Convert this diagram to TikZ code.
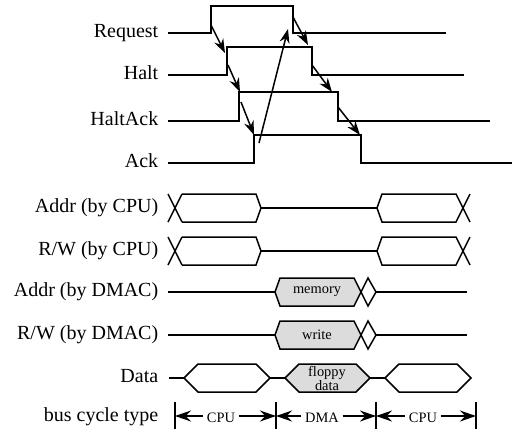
\documentclass[tikz,border=0pt]{standalone}
\usepackage{fontspec}
\setmainfont{Liberation Serif}
\usetikzlibrary{arrows.meta}
\definecolor{busGray}{HTML}{DCDCDC}

\begin{document}
\begin{tikzpicture}[
    x=0.5pt, y=-0.5pt,
    line width=0.75pt,
    font=\fontsize{10}{12}\selectfont,
    lbl/.style={anchor=mid east, inner sep=0pt},
    small/.style={font=\fontsize{7.2}{7}\selectfont, inner sep=1.5pt},
    busfill/.style={fill=busGray},
    cause/.style={-{Stealth[length=7pt, width=5pt]}},
    span/.style={-{Stealth[length=8pt, width=5.5pt]}}
  ]
  \useasboundingbox (0,0) rectangle (515,435);

  % --- ROW LABELS ---
  \foreach \y/\t [count=\i] in {33/Request, 75/Halt, 121/HaltAck, 163/Ack,
      208/Addr (by CPU), 251/{R/W (by CPU)}, 292/Addr (by DMAC),
      335/{R/W (by DMAC)}, 378/Data, 417/bus cycle type}
    \node[lbl] (row\i) at (159,\y) {\t};

  % --- HANDSHAKE SIGNALS ---
  \draw (168,33) -- (211,33) -- (211,6) -- (293,6) -- (293,33) -- (446,33);
  \draw (168,75) -- (227,75) -- (227,47) -- (312,47) -- (312,75) -- (464,75);
  \draw (168,121) -- (239,121) -- (239,92) -- (338,92) -- (338,121) -- (490,121);
  \draw (168,163) -- (254,163) -- (254,135) -- (361,135) -- (361,163) -- (512,163);

  \coordinate (reqUp) at (211,25);
  \coordinate (haltUpTop) at (225,53);
  \coordinate (haltUp) at (228,65);
  \coordinate (hackUpTop) at (240,92);
  \coordinate (hackUp) at (241,102);
  \coordinate (ackUpTop) at (254,135);
  \coordinate (ackHigh) at (259,143);
  \coordinate (reqDownLow) at (288,29);
  \coordinate (reqDown) at (293,17);
  \coordinate (haltDownTop) at (308,45);
  \coordinate (haltDown) at (312,65);
  \coordinate (hackDownTop) at (332,92);
  \coordinate (hackDown) at (338,107);
  \coordinate (ackDownTop) at (360,135);

  \draw[cause] (reqUp) -- (haltUpTop);
  \draw[cause] (haltUp) -- (hackUpTop);
  \draw[cause] (hackUp) -- (ackUpTop);
  \draw[cause] (ackHigh) -- (reqDownLow);
  \draw[cause] (reqDown) -- (haltDownTop);
  \draw[cause] (haltDown) -- (hackDownTop);
  \draw[cause] (hackDown) -- (ackDownTop);

  % --- CPU BUS ---
  \foreach \y in {208,251} {
    \begin{scope}[shift={(0,\y)}]
      \draw (168,-14) -- (182,14) (168,14) -- (182,-14);
      \draw (182,-14) -- (256,-14) -- (261,0) -- (256,14) -- (182,14);
      \draw (261,0) -- (377,0);
      \draw (470,-14) -- (456,14) -- (382,14) -- (377,0) -- (382,-14) -- (456,-14) -- (470,14);
    \end{scope}
  }

  % --- DMAC BUS ---
  \foreach \y/\t [count=\i] in {292/memory, 335/write} {
    \begin{scope}[shift={(0,\y)}]
      \draw (168,0) -- (275,0);
      \filldraw[busfill] (275,0) -- (280,-14) -- (354,-14) -- (361,0)
        -- (354,14) -- (280,14) -- cycle;
      \draw (361,0) -- (368,14) -- (376,0) -- (368,-14) -- cycle;
      \draw (376,0) -- (467,0);
      \node[small] (dmac\i) at (317,0) {\t};
    \end{scope}
  }

  % --- DATA BUS ---
  \begin{scope}[shift={(0,378)}]
    \draw (169,0) -- (184,0);
    \draw (184,0) -- (198,-14) -- (256,-14) -- (270,0) -- (256,14) -- (198,14) -- cycle;
    \draw (270,0) -- (285,0);
    \filldraw[busfill] (285,0) -- (299,-14) -- (356,-14) -- (370,0) -- (356,14) -- (299,14) -- cycle;
    \draw (370,0) -- (385,0);
    \draw (385,0) -- (399,-14) -- (457,-14) -- (471,0) -- (457,14) -- (399,14) -- cycle;
    \node[small, align=center] (floppy) at (327,0) {floppy\\data};
  \end{scope}

  % --- BUS CYCLE TYPE ---
  \foreach \x [count=\i] in {175,276,376,476} {
    \draw (\x,402) -- (\x,429);
    \coordinate (bar\i) at (\x,416);
  }
  \node[small] (cpuA) at (221,418) {CPU};
  \node[small] (dma) at (322,418) {DMA};
  \node[small] (cpuB) at (423,418) {CPU};

  \draw[span] (cpuA.west |- bar1) -- (bar1);
  \draw[span] (cpuA.east |- bar2) -- (bar2);
  \draw[span] (dma.west |- bar2) -- (bar2);
  \draw[span] (dma.east |- bar3) -- (bar3);
  \draw[span] (cpuB.west |- bar3) -- (bar3);
  \draw[span] (cpuB.east |- bar4) -- (bar4);

\end{tikzpicture}
\end{document}
